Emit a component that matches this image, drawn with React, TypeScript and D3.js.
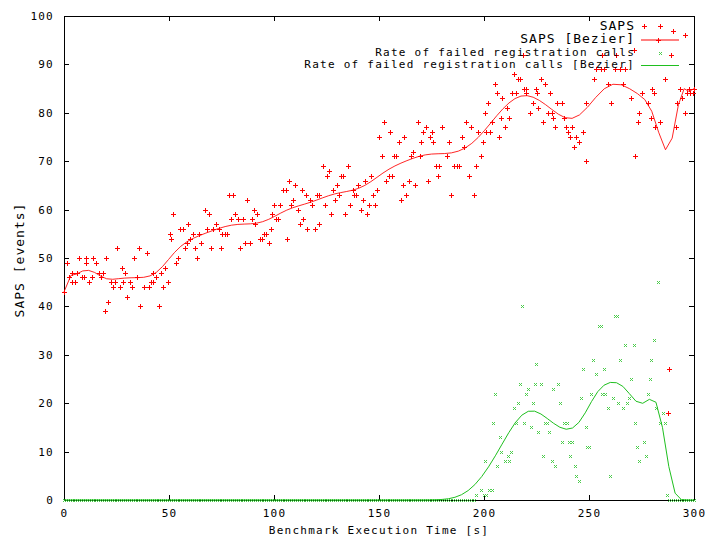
import React, { useEffect, useRef } from 'react';
import * as d3 from 'd3';

const xTicks = [0, 50, 100, 150, 200, 250, 300];
const yTicks = [0, 10, 20, 30, 40, 50, 60, 70, 80, 90, 100];

// SAPS samples [time s, events]
const sapsPoints: [number, number][] = [
  [0, 43], [1.3, 49], [2.6, 46], [3.9, 47], [4, 45], [5.2, 45], [6.4, 47], [7.3, 50], [8.6, 46], [9.6, 46],
  [10.5, 50], [10.6, 49], [12, 45], [13.4, 46], [14, 50], [15.3, 49], [16.5, 47], [17.5, 46], [18.4, 47], [19.4, 39],
  [20, 50], [21, 41], [22.2, 45], [23.2, 44], [24.5, 45], [25.4, 52], [26.7, 44], [27.6, 48], [28, 45], [29.2, 47],
  [30, 42], [31.4, 45], [32.4, 44], [33.3, 50], [34.6, 46], [35.6, 52], [36.2, 40], [38, 44], [39.4, 51], [40.3, 44],
  [41.3, 45], [42.5, 45], [42.6, 47], [43.8, 46], [45, 40], [46, 47], [47.3, 44], [48.2, 48], [49.5, 45],
  [50.5, 55], [51, 54], [52, 59], [53.3, 49], [54.3, 50], [55.2, 56], [56.5, 56], [57.4, 52], [58.4, 53], [59, 57],
  [60, 54], [61.2, 55], [62.2, 52], [63.1, 50], [64.4, 55], [65.3, 53], [67, 60], [68, 56], [69, 59], [70, 52],
  [71, 56], [72.3, 57], [73.6, 56], [74.6, 52], [75.2, 55], [76.5, 55], [77.4, 55], [78.4, 63], [79.3, 58], [80.3, 63],
  [81.5, 59], [82.8, 58], [84, 52], [85, 58], [86.3, 53], [87.2, 62], [88.5, 53], [89.4, 58], [90.4, 60], [91, 57],
  [92, 59], [93.2, 54], [94.2, 54], [95.1, 55], [96.4, 55], [97.4, 53], [98.6, 56], [99, 59], [100, 61], [100.9, 58],
  [101.8, 58], [103, 61], [104.2, 64], [105.5, 64], [106.4, 54], [107, 66], [108, 61], [109, 62], [110.2, 65], [111.2, 60],
  [112.4, 57], [113.4, 64], [114, 58], [115, 63], [115.9, 56], [117.2, 62], [118, 61], [119.4, 56], [120.4, 63], [121.3, 57],
  [121.6, 63], [123.2, 69], [124.2, 61], [125.1, 67], [126, 68], [127.3, 59], [128.3, 64], [129.2, 62], [129.9, 65], [131.1, 63],
  [131.8, 67], [133, 67], [134, 59], [135.3, 69], [136.2, 61], [137.5, 64], [138, 63], [139, 63], [140, 65], [141.3, 60],
  [142.2, 62], [143.2, 66], [144.5, 59], [145.4, 61], [146, 67], [147, 63], [148, 61], [149.2, 64], [150.2, 75], [151.4, 71],
  [152.3, 78], [153.5, 66], [154.7, 67], [155, 76], [156, 67], [157.3, 71], [158.3, 71], [159.5, 74], [160.4, 62], [161.4, 65],
  [161.7, 75], [163, 63], [164.3, 66], [165.2, 71], [166.2, 72], [167.1, 65], [168.4, 78], [169.3, 71], [170, 74], [171, 76],
  [172.2, 77], [173.1, 66], [174.1, 75], [175, 76], [175.7, 74], [177.2, 69], [178.2, 67], [178.8, 69], [180.1, 77], [182.3, 71],
  [183.3, 74], [184.2, 63], [185.8, 69], [187, 69], [188, 69], [189.3, 75], [190.6, 73], [191.5, 78], [192.8, 67], [193.7, 77],
  [195, 63], [196.3, 69], [197.2, 76], [198.5, 71], [199.4, 74], [200.5, 80], [200.9, 76], [202, 82], [203, 76], [204, 78],
  [205, 86], [206.3, 84], [207.2, 75], [208.2, 79], [208.8, 83], [210, 77], [211, 81], [212, 79], [213.2, 84], [214.2, 88],
  [215.1, 84], [216.4, 87], [217, 87], [218.4, 92], [218.9, 85], [219.9, 84], [220.2, 85], [222.1, 80], [223.4, 82], [224.6, 85],
  [225, 84], [225.9, 81], [227.2, 87], [228.2, 78], [229.1, 86], [230.3, 80], [231.3, 84], [232.6, 80], [232.9, 79], [233.9, 77],
  [234.8, 82], [237.3, 82], [238.3, 79], [239.2, 77], [240.2, 76], [241.1, 75], [241.7, 77], [243, 73], [244, 75], [245.3, 74],
  [247.1, 76], [248.4, 82], [248.7, 70], [252.2, 87], [253.3, 89], [255.5, 89], [256.2, 92], [257.1, 89], [259, 86], [260.3, 82],
  [262.5, 89], [263, 92], [264.7, 89], [266, 86], [267, 89], [270.1, 83], [271.2, 93], [272, 71], [273.3, 78], [274, 80],
  [275.2, 84], [276.2, 98], [278, 82], [279.6, 79], [280, 85], [280.9, 84], [281.5, 77], [283, 95], [284, 78], [286, 87],
  [287.6, 18], [288.2, 27], [289, 92], [289.8, 97], [291.4, 77], [292, 82], [293.3, 85], [294.5, 83], [295.5, 96], [295.8, 80],
  [296.8, 84], [297.7, 85], [298, 84], [299.3, 84], [300, 85],
];

// failed registration calls: idle at 0 until ~195 s, then these, then 0 again
const failedIdleTimes = d3.range(0, 196);
const failedPoints: [number, number][] = [
  [196, 1], [198.5, 2], [200.1, 1], [200.4, 8], [201, 1], [202.6, 2], [203.6, 2], [204.2, 16], [205.1, 22], [206.4, 7],
  [207.4, 13], [208.3, 10], [209.9, 8], [211.2, 9], [212.1, 8], [213, 10], [214.3, 19], [215.3, 16], [216.3, 20], [217, 24],
  [218, 40], [219.1, 16], [220.1, 22], [221, 23], [222.4, 15], [223.4, 20], [224.5, 24], [224.8, 28], [225.8, 14], [227, 24],
  [228, 9], [229, 16], [230.2, 16], [231.1, 14], [232.4, 8], [233, 23], [234, 7], [235, 24], [236.2, 20], [237.2, 12],
  [238.1, 16], [239.4, 16], [240.7, 12], [241, 9], [242, 12], [243.2, 7], [243.8, 5], [245, 4], [246.4, 21], [247.3, 27],
  [248.6, 15], [249.2, 11], [250.2, 11], [251.1, 22], [252, 29], [253.3, 26], [254.6, 36], [255.5, 36], [256.2, 22], [257.1, 27],
  [257.8, 22], [259, 19], [260, 5], [261.2, 21], [262.2, 38], [263.5, 38], [263.8, 20], [264.7, 29], [266, 19], [267, 32],
  [268.2, 20], [269.2, 21], [270.1, 25], [271.4, 32], [272, 16], [273, 11], [273.9, 8], [276.2, 12], [277.1, 9], [278, 22],
  [279, 25], [279.6, 29], [280.9, 33], [281.8, 19], [282.8, 45], [284, 16], [285, 18], [286.3, 16], [287, 1],
];
const failedTailTimes = d3.range(288, 301);

const legendLabels = ['SAPS', 'SAPS [Bezier]', 'Rate of failed registration calls', 'Rate of failed registration calls [Bezier]'];

// gnuplot style "smooth bezier": all points are control points (de Casteljau)
function bezier(pts: [number, number][], samples = 100) {
  const n = pts.length;
  const xs = new Float64Array(n);
  const ys = new Float64Array(n);
  const out: [number, number][] = [];
  for (let s = 0; s < samples; s++) {
    const u = s / (samples - 1);
    for (let i = 0; i < n; i++) { xs[i] = pts[i][0]; ys[i] = pts[i][1]; }
    for (let k = n - 1; k > 0; k--) {
      for (let i = 0; i < k; i++) {
        xs[i] += (xs[i + 1] - xs[i]) * u;
        ys[i] += (ys[i + 1] - ys[i]) * u;
      }
    }
    out.push([xs[0], ys[0]]);
  }
  return out;
}

const W = 709;
const H = 536;
const RED = '#ff0000';
const GREEN = '#1fbf1f';
const GREEN_PT = '#4ccc4c';
const MONO = '"DejaVu Sans Mono", monospace';

const App = () => {
  const ref = useRef<SVGSVGElement>(null);

  useEffect(() => {
    const svg = d3.select(ref.current);
    svg.selectAll('*').remove();

    const left = 64, right = 694, top = 16, bottom = 500;
    const x = d3.scaleLinear().domain([0, 300]).range([left, right]);
    const y = d3.scaleLinear().domain([0, 100]).range([bottom, top]);

    svg.append('rect').attr('width', W).attr('height', H).attr('fill', '#fff');

    const small = (sel: any) => sel
      .style('font-family', MONO).style('font-size', '11px')
      .style('letter-spacing', '1.25px').attr('fill', '#000');
    const big = (sel: any) => sel
      .style('font-family', MONO).style('font-size', '13px')
      .style('letter-spacing', '1px').attr('fill', '#000');

    // axes with inward ticks, mirrored on top/right
    const gx = svg.append('g').attr('transform', `translate(0,${bottom})`)
      .call(d3.axisBottom(x).tickValues(xTicks).tickSize(-5).tickPadding(9).tickFormat(d3.format('d')));
    const gy = svg.append('g').attr('transform', `translate(${left},0)`)
      .call(d3.axisLeft(y).tickValues(yTicks).tickSize(-5).tickPadding(10).tickFormat(d3.format('d')));
    svg.append('g').attr('transform', `translate(0,${top})`)
      .call(d3.axisTop(x).tickValues(xTicks).tickSize(-5).tickFormat(() => ''));
    svg.append('g').attr('transform', `translate(${right},0)`)
      .call(d3.axisRight(y).tickValues(yTicks).tickSize(-5).tickFormat(() => ''));
    svg.selectAll('.domain').remove();
    svg.selectAll('.tick line').attr('stroke', '#000').attr('shape-rendering', 'crispEdges');
    small(gx.selectAll('.tick text'));
    small(gy.selectAll('.tick text'));

    svg.append('rect')
      .attr('x', left + 0.5).attr('y', top + 0.5)
      .attr('width', right - left).attr('height', bottom - top)
      .attr('fill', 'none').attr('stroke', '#000').attr('shape-rendering', 'crispEdges');

    small(svg.append('text'))
      .attr('x', (left + right) / 2).attr('y', 531)
      .attr('text-anchor', 'middle').attr('dominant-baseline', 'middle')
      .text('Benchmark Execution Time [s]');
    big(svg.append('text'))
      .attr('transform', `translate(20,${(top + bottom) / 2 + 2}) rotate(-90)`)
      .attr('text-anchor', 'middle').attr('dominant-baseline', 'middle')
      .text('SAPS [events]');

    const plot = svg.append('g');
    const line = d3.line<[number, number]>().x(d => x(d[0])).y(d => y(d[1]));

    const plus = (g: any, px: number, py: number) => {
      const cx = Math.round(px) + 0.5, cy = Math.round(py) + 0.5;
      g.append('path')
        .attr('d', `M${cx - 2.5},${cy}H${cx + 2.5}M${cx},${cy - 2.5}V${cy + 2.5}`)
        .attr('fill', 'none').attr('stroke', RED).attr('stroke-width', 1);
    };
    const cross = (g: any, px: number, py: number) => {
      const cx = Math.round(px) + 0.5, cy = Math.round(py) + 0.5;
      g.append('path')
        .attr('d', `M${cx - 1.5},${cy - 1.5}L${cx + 1.5},${cy + 1.5}M${cx - 1.5},${cy + 1.5}L${cx + 1.5},${cy - 1.5}`)
        .attr('fill', 'none').attr('stroke', GREEN_PT).attr('stroke-width', 1);
    };

    const sapsSorted = [...sapsPoints].sort((a, b) => a[0] - b[0]);
    const failedAll: [number, number][] = [
      ...failedIdleTimes.map(t => [t, 0] as [number, number]),
      ...failedPoints,
      ...failedTailTimes.map(t => [t, 0] as [number, number]),
    ].sort((a, b) => a[0] - b[0]);

    // legend
    const keyText = 635, keyX0 = 641, keyX1 = 679, keyMid = 660;
    const rows = [26, 39.5, 52.5, 65];
    big(svg.append('text')).attr('x', keyText).attr('y', rows[0]).attr('text-anchor', 'end')
      .attr('dominant-baseline', 'middle').text(legendLabels[0]);
    big(svg.append('text')).attr('x', keyText).attr('y', rows[1]).attr('text-anchor', 'end')
      .attr('dominant-baseline', 'middle').text(legendLabels[1]);
    small(svg.append('text')).attr('x', keyText).attr('y', rows[2]).attr('text-anchor', 'end')
      .attr('dominant-baseline', 'middle').text(legendLabels[2]);
    small(svg.append('text')).attr('x', keyText).attr('y', rows[3]).attr('text-anchor', 'end')
      .attr('dominant-baseline', 'middle').text(legendLabels[3]);

    // SAPS points + bezier
    plus(plot, keyMid, rows[0]);
    sapsSorted.forEach(d => plus(plot, x(d[0]), y(d[1])));
    plot.append('line').attr('x1', keyX0).attr('x2', keyX1).attr('y1', rows[1] + 0.5).attr('y2', rows[1] + 0.5)
      .attr('stroke', RED);
    plot.append('path').datum(bezier(sapsSorted)).attr('d', line)
      .attr('fill', 'none').attr('stroke', RED).attr('stroke-width', 1).attr('stroke-opacity', 0.85);

    // failed registration calls points + bezier
    cross(plot, keyMid, rows[2]);
    failedAll.forEach(d => cross(plot, x(d[0]), y(d[1])));
    plot.append('line').attr('x1', keyX0).attr('x2', keyX1).attr('y1', rows[3] + 0.5).attr('y2', rows[3] + 0.5)
      .attr('stroke', GREEN);
    plot.append('path').datum(bezier(failedAll)).attr('d', line)
      .attr('fill', 'none').attr('stroke', GREEN).attr('stroke-width', 1);
  }, []);

  return (
    <svg ref={ref} width={W} height={H}
      style={{ position: 'absolute', left: 0, top: 0, display: 'block' }} />
  );
};

export default App;
